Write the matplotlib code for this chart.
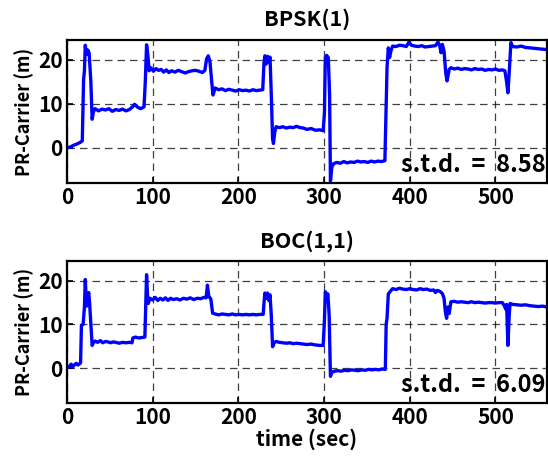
import matplotlib
matplotlib.use("Agg")
import matplotlib.pyplot as plt

# 글꼴 설정
plt.rcParams['font.family'] = ['Noto Sans CJK JP', 'DejaVu Sans']
plt.rcParams['font.weight'] = 'bold'

# BPSK(1) 데이터 (시간, PR-Carrier)
t_bpsk = [0, 4, 8, 12, 16, 18, 19.5, 20.5, 21.5, 23, 24.5, 26, 28, 29.5, 31, 33, 37, 41, 45, 49,
          53, 57, 61, 65, 69, 73, 77, 79, 82, 86, 90, 91.5, 93, 94.5, 96, 98, 101, 104, 107, 110,
          113, 116, 119, 122, 126, 130, 134, 138, 142, 146, 150, 154, 158, 161, 163, 165, 167, 169, 170.5, 173,
          177, 181, 185, 189, 193, 197, 201, 205, 209, 213, 217, 221, 225, 228.5, 230, 231, 232.5, 234, 235.5, 237,
          238.5, 240, 241, 242.5, 244, 248, 252, 256, 260, 264, 268, 272, 276, 280, 285, 290, 295, 299, 300.5, 301.5,
          303, 305, 306.5, 307.5, 309, 311, 315, 319, 323, 327, 331, 335, 339, 343, 347, 351, 355, 359, 363, 367,
          371, 372.5, 373.5, 375, 376.5, 378, 380, 384, 388, 392, 396, 399, 402, 406, 410, 414, 418, 422, 426, 430,
          433, 435, 436.5, 438, 440, 442, 443.5, 446, 448, 452, 456, 460, 464, 468, 472, 476, 480, 484, 488, 492,
          496, 500, 504, 508, 511, 513, 514.5, 516, 518, 520, 525, 530, 535, 540, 545, 550, 555, 560]
v_bpsk = [0.0, 0.2, 0.6, 0.9, 1.3, 1.6, 15.5, 17.5, 23.3, 21.2, 22.2, 21.5, 15, 6.5, 8.2, 8.9, 8.4, 8.8, 8.6, 8.9,
          8.3, 8.7, 8.5, 8.8, 8.4, 8.7, 9.4, 9.9, 9.3, 8.9, 9.3, 15, 23.4, 21, 17.5, 18.2, 17.4, 18.0, 17.6, 17.8,
          17.2, 17.7, 17.1, 17.5, 17.2, 17.6, 17.3, 17.0, 17.3, 17.5, 17.6, 17.4, 17.1, 17.6, 20.2, 20.9, 19.5, 15, 12.0, 13.6,
          13.2, 13.4, 13.0, 13.3, 13.1, 12.9, 13.2, 13.0, 13.1, 12.9, 13.2, 13.0, 13.1, 13.2, 19.5, 20.9, 19.0, 20.8, 19.5, 20.6,
          12, 2, 1.0, 3.5, 4.8, 4.6, 4.8, 4.5, 4.7, 4.6, 4.9, 4.6, 4.5, 4.2, 4.4, 4.0, 4.1, 3.9, 8, 20.5,
          21, 20.5, 12, -7.5, -4.5, -3.6, -3.3, -3.5, -3.1, -3.4, -3.2, -3.3, -3.0, -3.2, -3.1, -3.3, -3.0, -3.2, -3.0, -3.1,
          -2.9, 10, 18.2, 22.7, 20.5, 22.0, 23.1, 23.0, 23.3, 23.2, 23.0, 24.0, 23.3, 23.1, 23.0, 23.2, 22.9, 23.0, 23.1, 23.2,
          24.0, 23.2, 21.6, 23.5, 22, 17, 15.2, 17.8, 18.2, 17.9, 18.1, 17.8, 18.0, 17.9, 17.7, 18.0, 17.8, 17.9, 17.6, 17.8,
          17.7, 17.9, 17.6, 17.7, 17.5, 15, 12.5, 17, 23.9, 23.0, 22.9, 23.1, 22.8, 22.7, 22.6, 22.5, 22.4, 22.3]

# BOC(1,1) 데이터
t_boc = [0, 3, 5, 7, 9, 11, 13, 15, 16, 17, 19, 20.5, 21.5, 23, 24.5, 25.5, 26.5, 28, 29.5, 31,
         33, 36, 39, 42, 45, 48, 51, 54, 57, 61, 65, 69, 73, 76, 77, 80, 84, 88, 91, 92,
         93, 94, 95, 97, 100, 103, 106, 109, 112, 115, 118, 121, 124, 128, 132, 136, 140, 144, 148, 152,
         156, 160, 162.5, 164, 165.5, 168, 170, 173, 177, 181, 185, 189, 193, 197, 201, 205, 209, 213, 217, 221,
         225, 229, 230, 231, 232.5, 234, 235.5, 237, 238.5, 240, 242, 244, 248, 252, 256, 260, 264, 268, 272, 276,
         280, 285, 290, 295, 299, 300.5, 301.5, 303, 304.5, 306, 307.5, 309, 312, 316, 320, 324, 328, 332, 336, 340,
         344, 348, 352, 356, 360, 364, 368, 371.5, 372.5, 373.5, 375, 377, 380, 384, 388, 392, 396, 400, 404, 408,
         412, 416, 420, 424, 428, 430, 432, 435, 438, 440, 441.5, 443, 444.5, 446, 448, 452, 456, 460, 464, 468,
         472, 476, 480, 484, 488, 492, 496, 500, 504, 508, 510, 512, 513, 514.5, 516, 517, 520, 525, 530, 535,
         540, 545, 550, 555, 560]
v_boc = [0.0, 0.4, 0.9, 0.3, 0.8, 1.1, 0.7, 1.0, 1.2, 9.8, 10.0, 14, 20.3, 14.2, 16.5, 17.3, 15, 10, 5.2, 5.8,
         6.2, 5.9, 6.3, 5.8, 6.1, 6.0, 5.8, 6.0, 5.9, 5.7, 5.9, 5.8, 5.9, 5.8, 6.9, 7.1, 6.9, 7.0, 7.1, 14,
         21.4, 17, 14.8, 16.0, 15.6, 16.2, 15.5, 16.0, 15.6, 16.1, 15.5, 16.0, 15.7, 15.9, 15.6, 16.0, 15.8, 16.1, 15.7, 16.0,
         15.9, 16.2, 16.1, 19.0, 16.5, 15.8, 12.6, 12.4, 12.2, 12.4, 12.3, 12.2, 12.4, 12.2, 12.3, 12.2, 12.3, 12.2, 12.3, 12.2,
         12.3, 12.3, 15, 17.2, 16.0, 17.2, 15.5, 16.8, 12, 4.9, 5.8, 6.1, 5.9, 5.8, 5.7, 5.8, 5.6, 5.7, 5.6, 5.5,
         5.4, 5.5, 5.3, 5.2, 5.2, 11, 17.5, 16.3, 17.0, 12, -1.9, -1.0, -0.7, -0.6, -0.7, -0.5, -0.6, -0.4, -0.5, -0.6,
         -0.4, -0.5, -0.3, -0.4, -0.3, -0.4, -0.2, -0.3, 10, 11.4, 17.0, 17.5, 18.2, 18.0, 18.3, 18.1, 18.0, 18.2, 18.0, 17.9,
         18.2, 18.0, 18.1, 17.8, 17.9, 17.3, 17.8, 17.6, 17.1, 16, 13, 11.4, 14, 12.5, 15.2, 15.3, 15.1, 15.2, 15.1, 15.0,
         15.2, 15.0, 15.1, 15.0, 14.9, 15.0, 15.0, 14.9, 15.0, 15.0, 14.4, 13.5, 14.6, 5.2, 12, 14.8, 14.6, 14.5, 14.4, 14.5,
         14.3, 14.2, 14.1, 14.2, 14.0]

titles = ["BPSK(1)", "BOC(1,1)"]
std_labels = ["s.t.d. = 8.58", "s.t.d. = 6.09"]
x_ticks = [0, 100, 200, 300, 400, 500]
y_ticks = [0, 10, 20]

fig = plt.figure(figsize=(5.48, 4.59), dpi=100)
ax1 = fig.add_axes([0.122, 0.601, 0.876, 0.312])
ax2 = fig.add_axes([0.122, 0.122, 0.876, 0.309])

for ax, t, v, title, std in zip([ax1, ax2], [t_bpsk, t_boc], [v_bpsk, v_boc], titles, std_labels):
    ax.plot(t, v, color="blue", linewidth=2.4)
    ax.set_xlim(0, 560)
    ax.set_ylim(-8, 24.5)
    ax.set_xticks(x_ticks)
    ax.set_yticks(y_ticks)
    ax.grid(True, color="black", linestyle=(0, (6, 4)), linewidth=0.9, alpha=0.75)
    ax.tick_params(direction="in", length=4, labelsize=15, width=1.2, pad=3)
    for s in ax.spines.values():
        s.set_linewidth(1.6)
    ax.set_title(title, fontsize=15.5, fontweight="bold", pad=10)
    ax.set_ylabel("PR-Carrier (m)", fontsize=13, fontweight="bold", labelpad=3)
    ax.text(0.997, 0.04, std.replace(" = ", "  =  "), transform=ax.transAxes, ha="right", va="bottom",
            fontsize=17, fontweight="bold")

ax2.set_xlabel("time (sec)", fontsize=15, fontweight="bold", labelpad=0)

plt.savefig("out.png", dpi=100)
